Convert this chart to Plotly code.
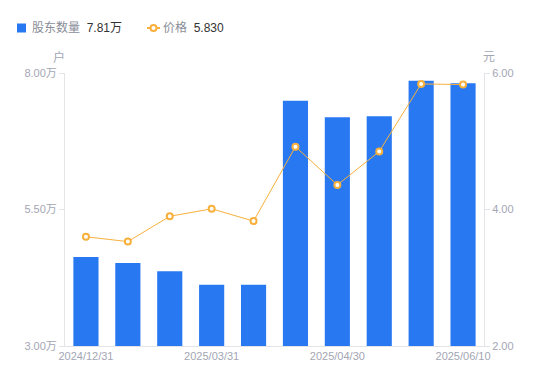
import plotly.graph_objects as go

dates = ["2024/12/31", "2025/01/20", "2025/02/28", "2025/03/31", "2025/04/10",
         "2025/04/20", "2025/04/30", "2025/05/20", "2025/05/31", "2025/06/10"]
holders_wan = [4.63, 4.52, 4.37, 4.12, 4.12, 7.49, 7.19, 7.21, 7.86, 7.81]
price = [3.60, 3.53, 3.90, 4.01, 3.83, 4.92, 4.36, 4.85, 5.84, 5.83]

x_tick_labels = ["2024/12/31", "2025/03/31", "2025/04/30", "2025/06/10"]
left_ticks = [3.0, 5.5, 8.0]
left_tick_text = ["3.00万", "5.50万", "8.00万"]
right_ticks = [2.0, 4.0, 6.0]
right_tick_text = ["2.00", "4.00", "6.00"]

BLUE = "#2878F2"
ORANGE = "#F8B03C"
AXIS_TXT = "#A3A6B4"
AXIS_LINE = "#E3E4E8"
FONT = "Liberation Sans, Noto Sans CJK SC"

fig = go.Figure()
fig.add_trace(go.Bar(
    x=dates, y=holders_wan, name="股东数量",
    marker=dict(color=BLUE, line=dict(width=0)),
    yaxis="y", showlegend=False, hoverinfo="skip",
))
fig.add_trace(go.Scatter(
    x=dates, y=price, name="价格", mode="lines+markers",
    line=dict(color=ORANGE, width=1),
    marker=dict(symbol="circle", size=6, color="white", line=dict(color=ORANGE, width=2)),
    yaxis="y2", showlegend=False, hoverinfo="skip",
))

axis_common = dict(
    showgrid=False, zeroline=False, showline=True, linecolor=AXIS_LINE, linewidth=1,
    ticks="outside", ticklen=5, tickcolor=AXIS_LINE,
    tickfont=dict(size=11, color=AXIS_TXT, family=FONT),
)

# page body has an 8px margin: compensate so the plot area lands at the reference position
fig.update_layout(
    width=542, height=373,
    margin=dict(l=57, r=66, t=65, b=35),
    paper_bgcolor="white", plot_bgcolor="white",
    bargap=0.4,
    font=dict(family=FONT),
    xaxis=dict(
        type="category", showgrid=False, zeroline=False, showline=True,
        linecolor=AXIS_LINE, linewidth=1, ticks="",
        tickvals=x_tick_labels, ticktext=x_tick_labels,
        tickfont=dict(size=11, color=AXIS_TXT, family=FONT),
        range=[-0.5, len(dates) - 0.5],
    ),
    yaxis=dict(range=[3, 8], tickvals=left_ticks, ticktext=left_tick_text, side="left", **axis_common),
    yaxis2=dict(range=[2, 6], tickvals=right_ticks, ticktext=right_tick_text, side="right",
                overlaying="y", **axis_common),
    showlegend=False,
)

# unit labels
fig.add_annotation(text="户", xref="paper", yref="paper", x=-6 / 419, y=1.0, yshift=16,
                   showarrow=False, xanchor="center", yanchor="middle",
                   font=dict(size=12, color=AXIS_TXT, family=FONT))
fig.add_annotation(text="元", xref="paper", yref="paper", x=1 + 5 / 419, y=1.0, yshift=16,
                   showarrow=False, xanchor="center", yanchor="middle",
                   font=dict(size=12, color=AXIS_TXT, family=FONT))

# custom legend
LY = 1 + 45 / 273
fig.add_shape(type="rect", xref="paper", yref="paper",
              x0=-48 / 419, x1=-39 / 419, y0=LY - 4.5 / 273, y1=LY + 4.5 / 273,
              fillcolor=BLUE, line=dict(width=0))
fig.add_annotation(
    text=f"<span style='color:#8A8D99'>股东数量</span>  <span style='color:#333333'>{holders_wan[-1]:.2f}万</span>",
    xref="paper", yref="paper", x=-35 / 419, y=LY, xanchor="left", yanchor="middle",
    showarrow=False, font=dict(size=12, family=FONT))
fig.add_shape(type="line", xref="paper", yref="paper",
              x0=82 / 419, x1=95 / 419, y0=LY, y1=LY,
              line=dict(color=ORANGE, width=2))
fig.add_shape(type="circle", xref="paper", yref="paper",
              x0=85.5 / 419, x1=91.5 / 419, y0=LY - 3 / 273, y1=LY + 3 / 273,
              fillcolor="white", line=dict(color=ORANGE, width=2))
fig.add_annotation(
    text=f"<span style='color:#8A8D99'>价格</span>  <span style='color:#333333'>{price[-1]:.3f}</span>",
    xref="paper", yref="paper", x=96 / 419, y=LY, xanchor="left", yanchor="middle",
    showarrow=False, font=dict(size=12, family=FONT))

fig.write_html("out.html")
